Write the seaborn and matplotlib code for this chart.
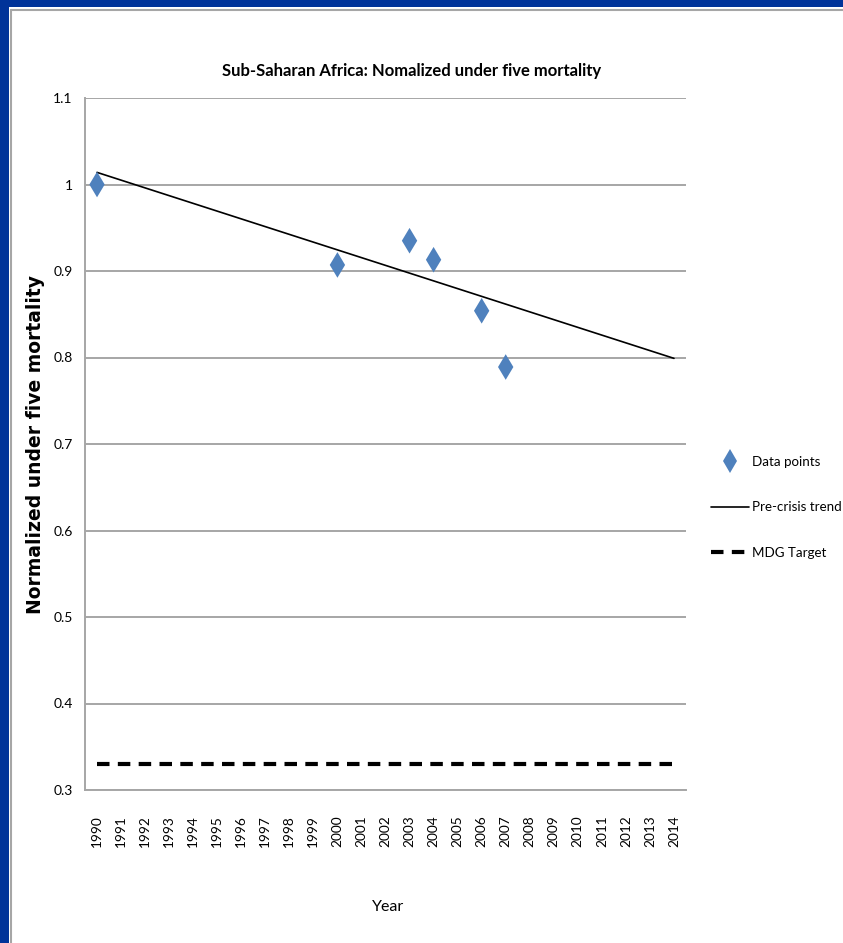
import matplotlib
matplotlib.use("Agg")
import matplotlib.pyplot as plt
from matplotlib.patches import Rectangle
from matplotlib.lines import Line2D
import seaborn as sns
import pandas as pd

# Observed under-five mortality, normalized to 1990
data_years = [1990, 2000, 2003, 2004, 2006, 2007]
data_values = [1.0, 0.907, 0.935, 0.913, 0.854, 0.789]

# Pre-crisis linear trend, end points
trend_years = [1990, 2014]
trend_values = [1.014, 0.799]

# MDG target level
mdg_years = [1990, 2014]
mdg_values = [0.33, 0.33]

year_ticks = list(range(1990, 2015))
y_ticks = [0.3, 0.4, 0.5, 0.6, 0.7, 0.8, 0.9, 1.0, 1.1]
y_tick_labels = ["0.3", "0.4", "0.5", "0.6", "0.7", "0.8", "0.9", "1", "1.1"]

sns.set_theme(style="white")
NARROW = ["Lato", "DejaVu Sans"]
plt.rcParams["font.family"] = NARROW
plt.rcParams["text.color"] = "black"
plt.rcParams["axes.labelcolor"] = "black"
plt.rcParams["xtick.color"] = "black"
plt.rcParams["ytick.color"] = "black"

W, H = 843, 943
fig = plt.figure(figsize=(W / 100, H / 100), dpi=100)
fig.patch.set_facecolor("white")

# Frame: blue bands and grey chart-area border
fig.add_artist(Rectangle((0, 1 - 7 / H), 1, 7 / H, transform=fig.transFigure,
                         facecolor="#003399", edgecolor="none", zorder=0))
fig.add_artist(Rectangle((0, 0), 9 / W, 1, transform=fig.transFigure,
                         facecolor="#003399", edgecolor="none", zorder=0))
fig.add_artist(Line2D([10.5 / W, 1], [1 - 9.5 / H, 1 - 9.5 / H], transform=fig.transFigure,
                      color="#A6A6A6", lw=1.5))
fig.add_artist(Line2D([10.5 / W, 10.5 / W], [0, 1 - 9.5 / H], transform=fig.transFigure,
                      color="#A6A6A6", lw=1.5))

ax = fig.add_axes([85 / W, (H - 790) / H, 601 / W, 692 / H])

df_pts = pd.DataFrame({"Year": data_years, "Value": data_values})
df_trend = pd.DataFrame({"Year": trend_years, "Value": trend_values})
df_mdg = pd.DataFrame({"Year": mdg_years, "Value": mdg_values})

sns.lineplot(data=df_mdg, x="Year", y="Value", ax=ax, color="black", lw=3.0,
             dashes=False, zorder=3)
ax.lines[-1].set_dashes([3, 2])
ax.lines[-1].set_dash_capstyle("butt")
sns.lineplot(data=df_trend, x="Year", y="Value", ax=ax, color="black", lw=1.2, zorder=3)
sns.scatterplot(data=df_pts, x="Year", y="Value", ax=ax, marker="d", s=170,
                color="#4F81BD", edgecolor="none", zorder=4)

ax.set_xlim(1989.5, 2014.5)
ax.set_ylim(0.3, 1.1)
ax.set_xticks(year_ticks)
ax.set_xticklabels([str(y) for y in year_ticks], rotation=90, fontsize=9.8,
                   va="top", ha="center")
ax.set_yticks(y_ticks)
ax.set_yticklabels(y_tick_labels, fontsize=10)
ax.tick_params(axis="x", length=0, pad=18)
ax.tick_params(axis="y", length=0, pad=9)

ax.grid(axis="y", color="#A6A6A6", lw=1.4)
ax.grid(axis="x", visible=False)
for s in ["top", "right"]:
    ax.spines[s].set_visible(False)
for s in ["left", "bottom"]:
    ax.spines[s].set_color("#A6A6A6")
    ax.spines[s].set_linewidth(1.4)
ax.set_axisbelow(True)

ax.set_xlabel("Year", fontsize=11.5, fontweight="normal")
ax.xaxis.set_label_coords(0.504, -0.159)
ax.set_ylabel("Normalized under five mortality", fontsize=13.5, fontweight="bold",
              family=["DejaVu Sans"])
ax.yaxis.set_label_coords(-0.066, 0.5)

fig.text(412 / W, 1 - 71 / H, "Sub-Saharan Africa: Nomalized under five mortality",
         ha="center", va="center", fontsize=12, fontweight="bold")

handles = [
    Line2D([], [], marker="d", color="#4F81BD", linestyle="none", markersize=12,
           markeredgewidth=0),
    Line2D([], [], color="black", lw=1.2),
    Line2D([], [], color="black", lw=3.0, dashes=[3, 2], dash_capstyle="butt"),
]
labels = ["Data points", "Pre-crisis trend", "MDG Target"]
fig.legend(handles, labels, loc="upper left", bbox_to_anchor=(711 / W, 1 - 456 / H),
           frameon=False, fontsize=9.6, handlelength=2.85, handletextpad=0.25,
           labelspacing=2.5, borderpad=0, borderaxespad=0)

fig.savefig("out.png", dpi=100, facecolor="white")
